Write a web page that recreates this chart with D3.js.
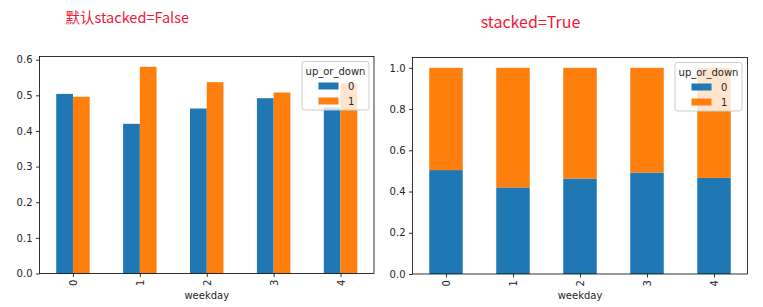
<!DOCTYPE html>
<html lang="zh">
<head>
  <meta charset="utf-8">
  <title></title>
  <script src="https://d3js.org/d3.v7.min.js"></script>
  <style>
    body { margin: 0; background: #fff; }
    text { font-family: "DejaVu Sans", sans-serif; fill: #262626; }
    .title { font-family: "Noto Sans CJK SC", sans-serif; fill: #f2163a; }
  </style>
</head>
<body>
<script type="text/javascript">
// data
var weekdays = ["0", "1", "2", "3", "4"];
var seriesNames = ["0", "1"];
var down = [0.504, 0.420, 0.463, 0.492, 0.466];   // up_or_down = 0
var up = [0.496, 0.580, 0.537, 0.508, 0.534];     // up_or_down = 1
var leftTicks = [0, 0.1, 0.2, 0.3, 0.4, 0.5, 0.6];
var rightTicks = [0, 0.2, 0.4, 0.6, 0.8, 1.0];
var colors = ["#1f77b4", "#ff7f0e"];

var svg = d3.select("body").append("svg")
  .attr("width", 763).attr("height", 307);

function drawPanel(opt) {
  var m = opt.box;
  var g = svg.append("g");
  var x = d3.scaleLinear().domain([-0.5, 4.5]).range([m.left, m.right]);
  var y = d3.scaleLinear().domain([0, opt.ymax]).range([m.bottom, m.top]);

  var rows = weekdays.map(function(d, i) { return {day: i, v0: down[i], v1: up[i]}; });

  if (opt.stacked) {
    var stack = d3.stack().keys(["v0", "v1"])(rows);
    stack.forEach(function(layer, k) {
      g.selectAll(null).data(layer).enter().append("rect")
        .attr("x", function(d) { return x(d.data.day - 0.25); })
        .attr("width", x(0.5) - x(0))
        .attr("y", function(d) { return y(d[1]); })
        .attr("height", function(d) { return y(d[0]) - y(d[1]); })
        .attr("fill", colors[k]);
    });
  } else {
    ["v0", "v1"].forEach(function(key, k) {
      g.selectAll(null).data(rows).enter().append("rect")
        .attr("x", function(d) { return x(d.day - 0.25 + k * 0.25); })
        .attr("width", x(0.25) - x(0))
        .attr("y", function(d) { return y(d[key]); })
        .attr("height", function(d) { return y(0) - y(d[key]); })
        .attr("fill", colors[k]);
    });
  }

  // axes
  var ya = g.append("g").attr("transform", "translate(" + m.left + ",0)")
    .call(d3.axisLeft(y).tickValues(opt.ticks).tickSize(3.5).tickPadding(3.5).tickFormat(d3.format(".1f")));
  var xa = g.append("g").attr("transform", "translate(0," + m.bottom + ")")
    .call(d3.axisBottom(x).tickValues([0, 1, 2, 3, 4]).tickSize(3.5).tickFormat(function(d) { return weekdays[d]; }));
  [ya, xa].forEach(function(a) {
    a.select(".domain").remove();
    a.selectAll("line").attr("stroke", "#000").attr("stroke-width", 0.8);
    a.selectAll("text").style("font-size", "10px").attr("fill", "#262626");
  });
  xa.selectAll("text")
    .attr("transform", "rotate(-90)")
    .attr("x", -6).attr("y", 0).attr("dy", "0.35em")
    .style("text-anchor", "end");

  g.append("rect")
    .attr("x", m.left).attr("y", m.top)
    .attr("width", m.right - m.left).attr("height", m.bottom - m.top)
    .attr("fill", "none").attr("stroke", "#000").attr("stroke-width", 0.8);

  g.append("text")
    .attr("x", (m.left + m.right) / 2).attr("y", 299)
    .attr("text-anchor", "middle").style("font-size", "10px")
    .text("weekday");

  // legend
  var L = opt.legend;
  var lg = g.append("g").attr("transform", "translate(" + L.x + "," + L.y + ")");
  lg.append("rect").attr("width", 67).attr("height", 48.5).attr("rx", 2.5)
    .attr("fill", "#fff").attr("fill-opacity", 0.8)
    .attr("stroke", "#cccccc").attr("stroke-width", 1);
  lg.append("text").attr("x", 33.5).attr("y", 13.5).attr("text-anchor", "middle")
    .style("font-size", "10px").text("up_or_down");
  seriesNames.forEach(function(s, k) {
    lg.append("rect").attr("x", 16.5).attr("y", 21 + k * 15).attr("width", 20).attr("height", 7)
      .attr("fill", colors[k]);
    lg.append("text").attr("x", 46).attr("y", 28.5 + k * 15)
      .style("font-size", "10px").text(s);
  });
}

drawPanel({
  box: {left: 39.5, right: 374, top: 56.5, bottom: 273.5},
  ymax: 0.58 * 1.05, ticks: leftTicks, stacked: false,
  legend: {x: 302, y: 61.5}
});
drawPanel({
  box: {left: 412.5, right: 747.5, top: 57.5, bottom: 274},
  ymax: 1.05, ticks: rightTicks, stacked: true,
  legend: {x: 675, y: 62.5}
});

svg.append("text").attr("class", "title")
  .attr("x", 65.5).attr("y", 22.5).style("font-size", "14.5px")
  .text("默认stacked=False");
svg.append("text").attr("class", "title")
  .attr("x", 530.5).attr("y", 27.5).attr("text-anchor", "middle").style("font-size", "16px")
  .text("stacked=True");
</script>
</body>
</html>
